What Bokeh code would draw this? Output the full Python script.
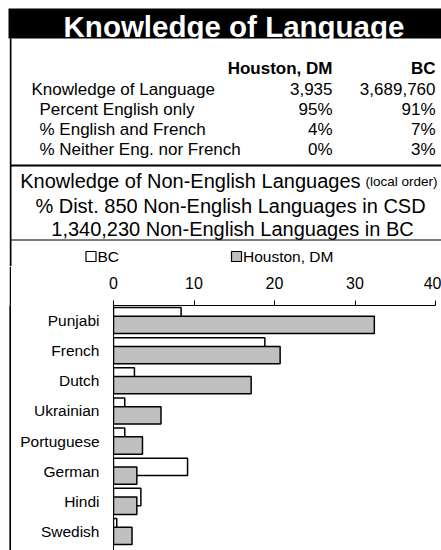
import numpy as np
from bokeh.plotting import figure
from bokeh.layouts import column, row
from bokeh.models import Range1d, FixedTicker, Spacer
from bokeh.core.properties import value
from bokeh.embed import file_html
from bokeh.resources import INLINE

# ---------------- data ----------------
title_text = "Knowledge of Language"
col_headers = ["Houston, DM", "BC"]
row_labels = ["Knowledge of Language", "Percent English only",
              "% English and French", "% Neither Eng. nor French"]
houston_vals = ["3,935", "95%", "4%", "0%"]
bc_vals = ["3,689,760", "91%", "7%", "3%"]
sub_main = "Knowledge of Non-English Languages"
sub_note = "(local order)"
sub_lines = ["% Dist. 850 Non-English Languages in CSD",
             "1,340,230 Non-English Languages in BC"]
series_names = ["BC", "Houston, DM"]
languages = ["Punjabi", "French", "Dutch", "Ukrainian",
             "Portuguese", "German", "Hindi", "Swedish"]
bc_pct = [8.4, 18.8, 2.6, 1.4, 1.4, 9.2, 3.4, 0.4]
houston_pct = [32.4, 20.7, 17.1, 5.9, 3.6, 2.9, 2.9, 2.3]
x_ticks = [0, 10, 20, 30, 40]

# ---------------- style ----------------
FONT = value("Liberation Sans")
BC_FILL = "white"
HOU_FILL = "#c0c0c0"
W = 441
TOP_H = 266
BOT_H = 284

# ---------------- header figure (pixel coordinates) ----------------
top = figure(width=W, height=TOP_H, x_range=Range1d(0, W), y_range=Range1d(TOP_H, 0),
             output_backend="svg", toolbar_location=None, min_border=0,
             x_axis_location=None, y_axis_location=None)
top.grid.visible = False
top.outline_line_color = None

top.quad(left=[8], right=[W], top=[8], bottom=[38], fill_color="black", line_color=None)
top.text(x=[233.5], y=[25.5], text=[title_text], text_font=FONT, text_font_style="bold",
         text_font_size="29.5px", text_color="white", text_align="center",
         text_baseline="middle")

top.quad(left=[9.3], right=[11], top=[38], bottom=[TOP_H], fill_color="black",
         line_color=None)
top.segment(x0=[10], y0=[165], x1=[W], y1=[165], line_color="black", line_width=2)
top.segment(x0=[10], y0=[239.5], x1=[W], y1=[239.5], line_color="black", line_width=1.2)

# table
top.text(x=[332, 435], y=[68, 68], text=col_headers, text_font=FONT,
         text_font_style="bold", text_font_size="17px", text_color="black",
         text_align="right", text_baseline="middle")
row_y = [88.5 + 20.2 * i for i in range(len(row_labels))]
row_x = [31] + [39] * (len(row_labels) - 1)
top.text(x=row_x, y=row_y, text=row_labels, text_font=FONT, text_font_size="17px",
         text_color="black", text_align="left", text_baseline="middle")
top.text(x=[332] * len(row_y), y=row_y, text=houston_vals, text_font=FONT,
         text_font_size="17px", text_color="black", text_align="right",
         text_baseline="middle")
top.text(x=[435] * len(row_y), y=row_y, text=bc_vals, text_font=FONT,
         text_font_size="17px", text_color="black", text_align="right",
         text_baseline="middle")

# sub-headings
top.text(x=[360], y=[180], text=[sub_main], text_font=FONT, text_font_size="20px",
         text_color="black", text_align="right", text_baseline="middle")
top.text(x=[365], y=[181], text=[sub_note], text_font=FONT, text_font_size="13.5px",
         text_color="black", text_align="left", text_baseline="middle")
top.text(x=[230, 232], y=[205, 228], text=sub_lines, text_font=FONT,
         text_font_size="20px", text_color="black", text_align="center",
         text_baseline="middle")

# legend
top.rect(x=[90.5, 236], y=[256, 256], width=10, height=10,
         fill_color=[BC_FILL, HOU_FILL], line_color="black", line_width=1.2)
top.text(x=[97, 242.5], y=[256, 256], text=series_names, text_font=FONT,
         text_font_size="15.5px", text_color="black", text_align="left",
         text_baseline="middle")

# ---------------- left border (solid black strip) ----------------
strip = figure(width=2, height=BOT_H, x_range=Range1d(0, 1), y_range=Range1d(0, 1),
               output_backend="svg", toolbar_location=None, min_border=0,
               x_axis_location=None, y_axis_location=None,
               background_fill_color="black", border_fill_color="black")
strip.grid.visible = False
strip.outline_line_color = None
strip.quad(left=[0], right=[1], bottom=[0], top=[1], fill_color="black", line_color=None)

# ---------------- bar chart ----------------
idx = np.arange(len(languages))
bar = figure(width=W - 11, height=BOT_H, x_range=Range1d(0, 40.745),
             y_range=Range1d(7.63, -0.5),
             x_axis_location="above", output_backend="svg", toolbar_location=None,
             min_border_left=102, min_border_right=0, min_border_top=39,
             min_border_bottom=0)
bar.grid.visible = False
bar.outline_line_color = None

bar.hbar(y=idx - 0.145, height=0.575, left=0, right=bc_pct,
         fill_color=BC_FILL, line_color="black", line_width=1.5)
bar.hbar(y=idx + 0.145, height=0.575, left=0, right=houston_pct,
         fill_color=HOU_FILL, line_color="black", line_width=1.5)

xa = bar.xaxis[0]
xa.ticker = FixedTicker(ticks=x_ticks)
xa.bounds = (0, 40)
xa.major_tick_in = 0
xa.major_tick_out = 5
xa.minor_tick_line_color = None
xa.axis_line_color = "black"
xa.major_tick_line_color = "black"
xa.major_label_text_font = "Liberation Sans"
xa.major_label_text_font_size = "16px"
xa.major_label_text_color = "black"
xa.major_label_standoff = 12

ya = bar.yaxis[0]
ya.ticker = FixedTicker(ticks=[int(i) for i in idx])
ya.major_label_overrides = {int(i): name for i, name in zip(idx, languages)}
ya.major_tick_in = 0
ya.major_tick_out = 0
ya.major_tick_line_color = None
ya.minor_tick_line_color = None
ya.axis_line_color = "black"
ya.major_label_text_font = "Liberation Sans"
ya.major_label_text_font_size = "15.5px"
ya.major_label_text_color = "black"
ya.major_label_standoff = 14

layout = column(top, row(Spacer(width=9, height=BOT_H), strip, bar))
open("out.html", "w").write(file_html(layout, INLINE))
